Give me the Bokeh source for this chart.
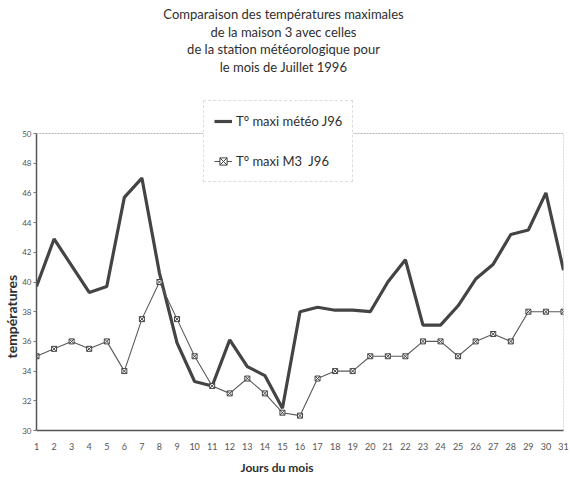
from bokeh.plotting import figure
from bokeh.models import Range1d, FixedTicker, Label, Legend, LegendItem, Span, Title
from bokeh.embed import file_html
from bokeh.resources import INLINE

days = list(range(1, 32))
t_meteo = [39.7, 42.9, 41.1, 39.3, 39.7, 45.7, 47.0, 40.6, 35.9, 33.3,
           33.0, 36.1, 34.3, 33.7, 31.5, 38.0, 38.3, 38.1, 38.1, 38.0,
           40.0, 41.5, 37.1, 37.1, 38.4, 40.2, 41.2, 43.2, 43.5, 46.0, 40.8]
t_m3 = [35.0, 35.5, 36.0, 35.5, 36.0, 34.0, 37.5, 40.0, 37.5, 35.0,
        33.0, 32.5, 33.5, 32.5, 31.2, 31.0, 33.5, 34.0, 34.0, 35.0,
        35.0, 35.0, 36.0, 36.0, 35.0, 36.0, 36.5, 36.0, 38.0, 38.0, 38.0]
y_ticks = list(range(30, 51, 2))
title_lines = ["Comparaison des températures maximales",
               "de la maison 3 avec celles",
               "de la station météorologique pour",
               "le mois de Juillet 1996"]
series_names = ["T° maxi météo J96", "T° maxi M3  J96"]
x_title = "Jours du mois"
y_title = "températures"

FONT = "Lato"
INK = "#2e2e2e"

FRAME_H = 430
AXIS_PX = 297
y_lo, y_hi = y_ticks[0], y_ticks[-1]
y_top = y_lo + (y_hi - y_lo) * FRAME_H / AXIS_PX

p = figure(width=570, height=479, output_backend="svg", toolbar_location=None,
           x_range=Range1d(days[0], days[-1]), y_range=Range1d(y_lo, y_top),
           min_border_left=36, min_border_right=7, min_border_top=0,
           min_border_bottom=49)
p.background_fill_color = "white"
p.border_fill_color = "white"
p.outline_line_color = None
p.xgrid.visible = False
p.ygrid.visible = False

p.xaxis.ticker = FixedTicker(ticks=days)
p.yaxis.ticker = FixedTicker(ticks=y_ticks)
p.yaxis.bounds = (y_lo, y_hi)
for ax in (p.xaxis, p.yaxis):
    ax.axis_line_color = "#555555"
    ax.axis_line_width = 1.5
    ax.major_label_text_font = FONT
    ax.major_label_text_color = "#555555"
    ax.minor_tick_line_color = None
    ax.minor_tick_out = 0
    ax.axis_label = None
p.xaxis.major_label_text_font_size = "9px"
p.yaxis.major_label_text_font_size = "8px"
p.xaxis.major_tick_line_color = None
p.xaxis.major_tick_out = 0
p.xaxis.major_tick_in = 0
p.xaxis.major_label_standoff = 12
p.yaxis.major_tick_out = 3
p.yaxis.major_tick_in = 0
p.yaxis.major_tick_line_color = "#777777"
p.yaxis.major_label_standoff = 2

p.add_layout(Span(location=y_hi, dimension="width", line_color="#b5b5b5",
                  line_dash="2 1", line_width=1))
p.segment(x0=[days[-1]], y0=[y_lo], x1=[days[-1]], y1=[y_hi],
          line_color="#b5b5b5", line_dash="2 1", line_width=1)

r1 = p.line(days, t_meteo, line_color="#444444", line_width=3.2)
r2 = p.line(days, t_m3, line_color="#5a5a5a", line_width=1.1)
r3 = p.scatter(days, t_m3, marker="square_x", size=5, line_color="#444444",
               fill_color="white", line_width=1)

legend = Legend(items=[LegendItem(label=series_names[0], renderers=[r1]),
                       LegendItem(label=series_names[1], renderers=[r2, r3])],
                location=(167, 248), orientation="vertical",
                label_text_font=FONT, label_text_font_size="13px",
                label_text_color=INK, label_height=20, glyph_height=20,
                glyph_width=18, label_standoff=4, spacing=20, padding=10,
                margin=0, background_fill_color="white",
                background_fill_alpha=1.0, border_line_color="#bdbdbd",
                border_line_dash="1 2", border_line_width=1)
p.add_layout(legend)

title_y = [417, 399, 382, 364]
for txt, ty in zip(title_lines, title_y):
    p.add_layout(Label(x=247, y=ty, x_units="screen", y_units="screen",
                       text=txt, text_align="center", text_baseline="middle",
                       text_font=FONT, text_font_size="13px",
                       text_color=INK))

p.add_layout(Title(text=y_title, align="left", offset=72, standoff=0,
                   text_font=FONT, text_font_size="14px",
                   text_font_style="bold", text_color=INK), "left")
p.add_layout(Title(text=x_title, align="left", offset=204, standoff=10,
                   text_font=FONT, text_font_size="12px",
                   text_font_style="bold", text_color=INK), "below")

open("out.html", "w").write(file_html(p, INLINE))
